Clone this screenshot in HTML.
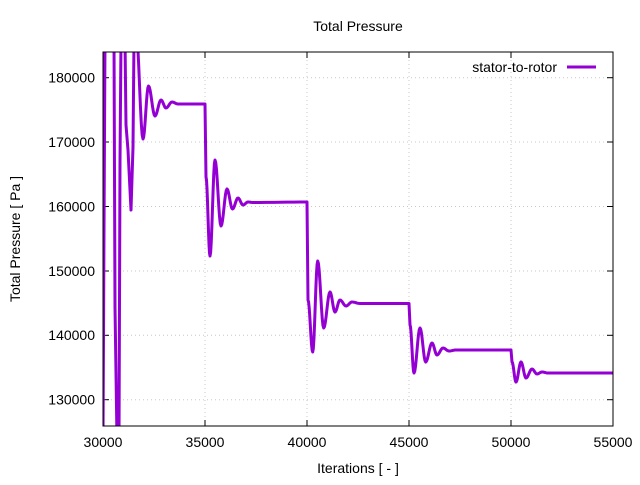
<!DOCTYPE html>
<html><head><meta charset="utf-8"><style>
html,body{margin:0;padding:0;background:#fff;}
text{font-family:"Liberation Sans",sans-serif;fill:#000;}
</style></head><body>
<svg width="640" height="480" viewBox="0 0 640 480" xmlns="http://www.w3.org/2000/svg">
<rect width="640" height="480" fill="#fff"/>
<g stroke="#c8c8c8" stroke-width="1" stroke-dasharray="1,3">
<line x1="103" y1="77.7" x2="613" y2="77.7"/>
<line x1="103" y1="142" x2="613" y2="142"/>
<line x1="103" y1="206.5" x2="613" y2="206.5"/>
<line x1="103" y1="271" x2="613" y2="271"/>
<line x1="103" y1="335.3" x2="613" y2="335.3"/>
<line x1="103" y1="399.7" x2="613" y2="399.7"/>
<line x1="205" y1="52" x2="205" y2="426"/>
<line x1="307" y1="52" x2="307" y2="426"/>
<line x1="409" y1="52" x2="409" y2="426"/>
<line x1="511" y1="52" x2="511" y2="426"/>
</g>
<g stroke="#000" stroke-width="1">
<line x1="103" y1="77.7" x2="109" y2="77.7"/><line x1="613" y1="77.7" x2="607" y2="77.7"/>
<line x1="103" y1="142" x2="109" y2="142"/><line x1="613" y1="142" x2="607" y2="142"/>
<line x1="103" y1="206.5" x2="109" y2="206.5"/><line x1="613" y1="206.5" x2="607" y2="206.5"/>
<line x1="103" y1="271" x2="109" y2="271"/><line x1="613" y1="271" x2="607" y2="271"/>
<line x1="103" y1="335.3" x2="109" y2="335.3"/><line x1="613" y1="335.3" x2="607" y2="335.3"/>
<line x1="103" y1="399.7" x2="109" y2="399.7"/><line x1="613" y1="399.7" x2="607" y2="399.7"/>
<line x1="205" y1="426" x2="205" y2="420"/><line x1="205" y1="52" x2="205" y2="58"/>
<line x1="307" y1="426" x2="307" y2="420"/><line x1="307" y1="52" x2="307" y2="58"/>
<line x1="409" y1="426" x2="409" y2="420"/><line x1="409" y1="52" x2="409" y2="58"/>
<line x1="511" y1="426" x2="511" y2="420"/><line x1="511" y1="52" x2="511" y2="58"/>
</g>
<g font-size="14" text-anchor="end">
<text x="95" y="82.5">180000</text>
<text x="95" y="147">170000</text>
<text x="95" y="211.5">160000</text>
<text x="95" y="276">150000</text>
<text x="95" y="340">140000</text>
<text x="95" y="404.5">130000</text>
</g>
<g font-size="14" text-anchor="middle">
<text x="103" y="447">30000</text>
<text x="205" y="447">35000</text>
<text x="307" y="447">40000</text>
<text x="409" y="447">45000</text>
<text x="511" y="447">50000</text>
<text x="613" y="447">55000</text>
<text x="358" y="473">Iterations [ - ]</text>
<text x="358" y="31">Total Pressure</text>
<text transform="translate(20,239) rotate(-90)">Total Pressure [ Pa ]</text>
</g>
<clipPath id="c"><rect x="103" y="52" width="510" height="374"/></clipPath>
<g clip-path="url(#c)" fill="none" stroke="#9400d3" stroke-width="3" stroke-linejoin="round">
<path id="p" d=""/>
</g>
<rect x="103" y="52" width="510" height="374" fill="none" stroke="#000" stroke-width="1"/>
<text x="557" y="72" font-size="14" text-anchor="end">stator-to-rotor</text>
<line x1="567" y1="67" x2="596" y2="67" stroke="#9400d3" stroke-width="3"/>
</svg>
<script>
(function(){
var d="M103,440 L104,230 L105,40 L114,40 L115,307 L117,440 L119,440 L120,163 L121,40 L125,40 L126,125 L128,150 L131,210 L133,147 L134,40 L136,30";
function ext(pts){
  var s="";
  for(var i=0;i<pts.length-1;i++){
    var a=pts[i],b=pts[i+1];
    for(var k=1;k<=8;k++){
      var t=k/8, x=a[0]+(b[0]-a[0])*t, y=a[1]+(b[1]-a[1])*(1-Math.cos(Math.PI*t))/2;
      s+=" L"+x.toFixed(2)+","+y.toFixed(2);
    }
  }
  return s;
}
d+=ext([[136,30],[143,139],[148.5,86],[155,116],[161,100],[166,108],[172,102],[178,104],[205,104]]);
d+=" L206,177"+ext([[206,177],[210,256],[215,160],[221,226],[227,189],[232.5,209],[238,198],[243,205],[248,202],[253,202.5],[307,202]]);
d+=" L308,300"+ext([[308,300],[312.7,352],[317.7,261],[323.7,328],[330,292],[335,312],[340,300],[346,306],[352,302],[360,303.5],[409,303.5]]);
d+=" L410,325"+ext([[410,325],[414,373],[420,328],[425.7,362],[432,343],[437,355],[443,348],[449,351],[456,350],[511,350]]);
d+=" L512,362"+ext([[512,362],[516,382],[521,362],[526,378],[532,369],[537,374],[542,372],[548,373],[613,373]]);
document.getElementById("p").setAttribute("d",d);
})();
</script>
</body></html>
